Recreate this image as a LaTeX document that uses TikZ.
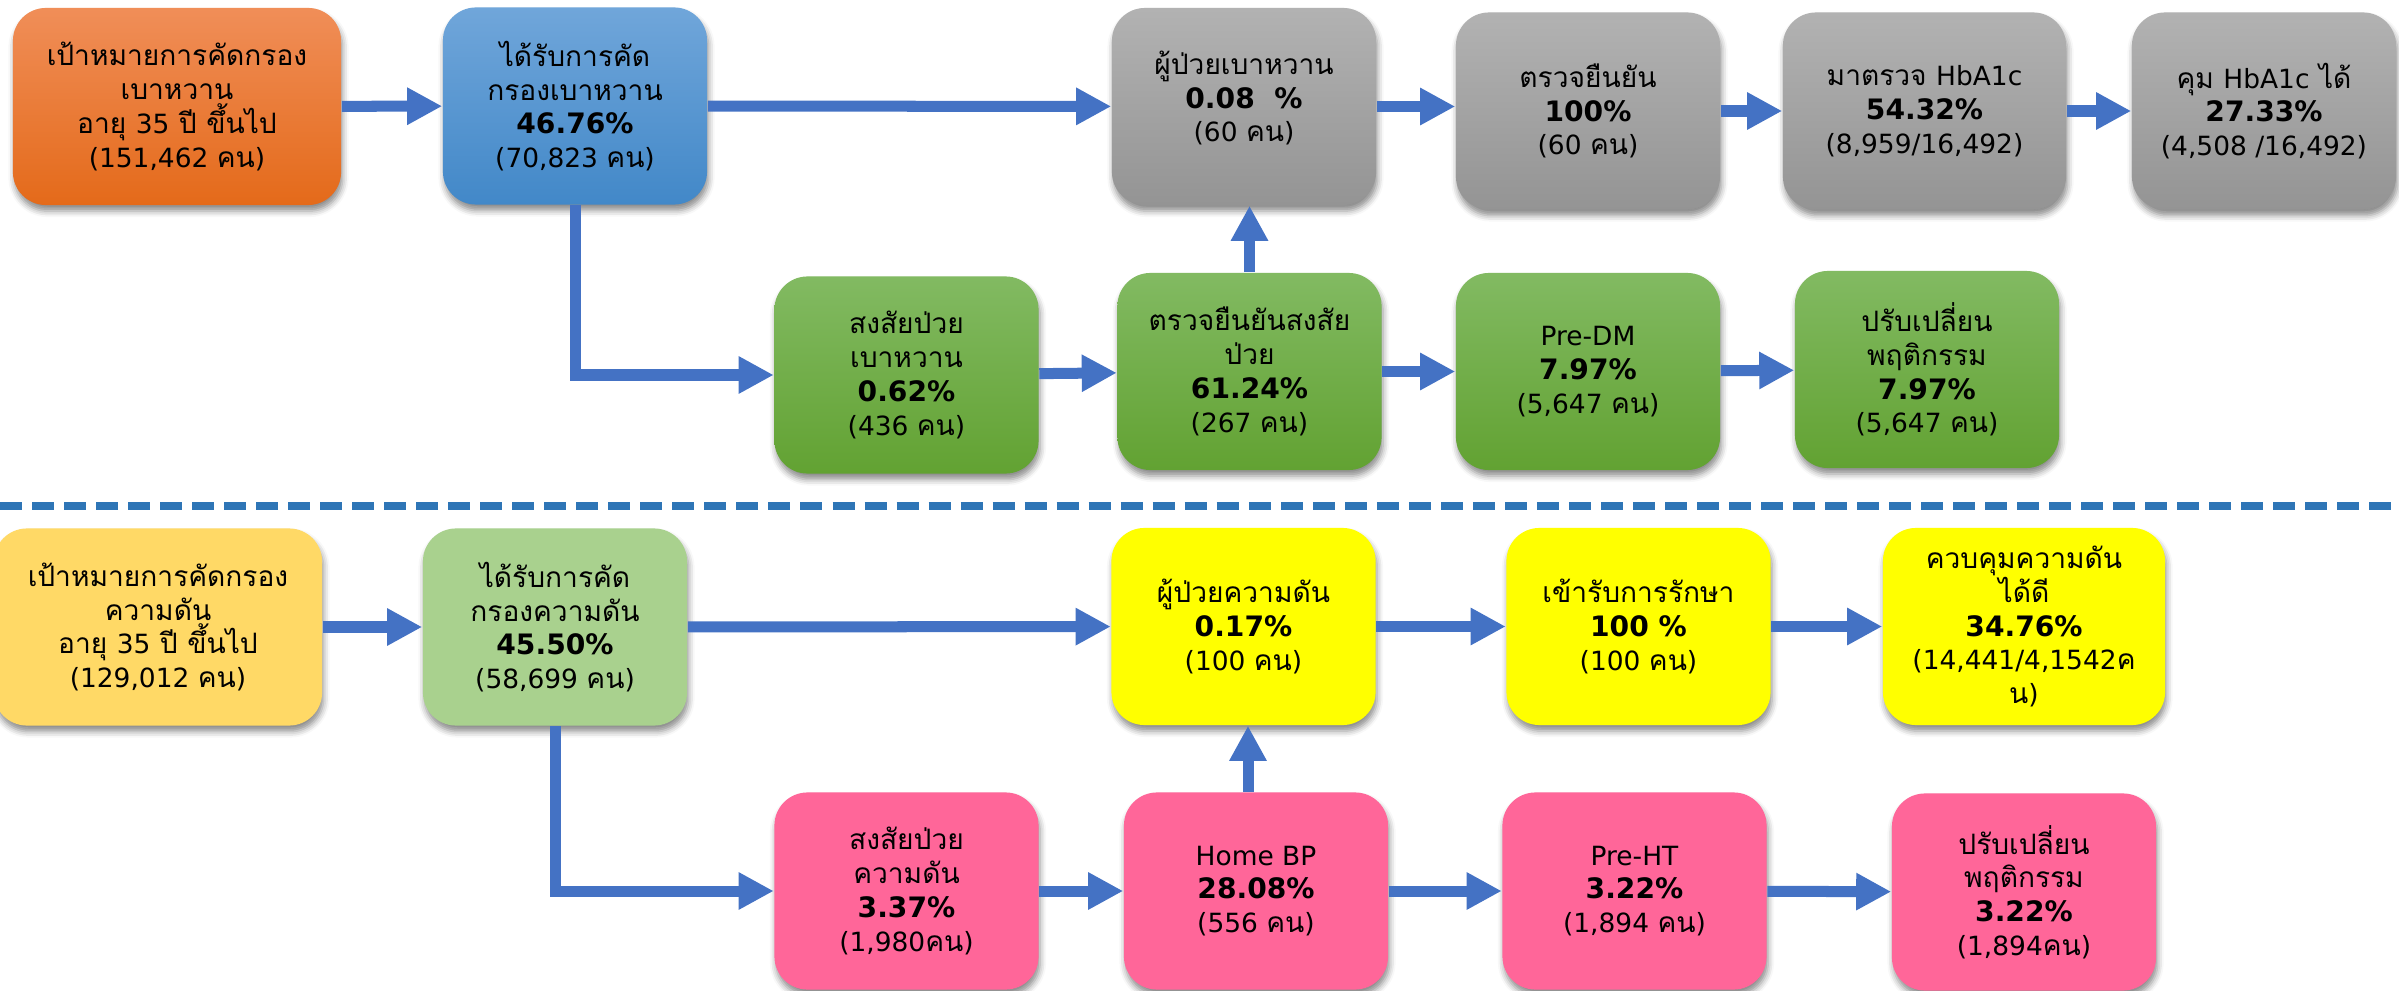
\documentclass[tikz,border=0pt]{standalone}
\usepackage{fontspec}
\setmainfont{Loma}[Script=Thai]
\newfontfamily\latf{DejaVu Sans}[Scale=0.94]
\newfontfamily\latB{DejaVu Sans}
\newcommand\LT[1]{{\latf #1}}
\newcommand\PB[1]{{\latB\bfseries #1}}
\usetikzlibrary{arrows.meta,shadows.blur}
\definecolor{arrowblue}{RGB}{68,114,196}
\definecolor{sepblue}{RGB}{46,117,182}
\definecolor{orT}{RGB}{240,142,88}
\definecolor{orM}{RGB}{244,125,45}
\definecolor{orB}{RGB}{228,106,26}
\definecolor{blT}{RGB}{112,166,218}
\definecolor{blM}{RGB}{88,152,214}
\definecolor{blB}{RGB}{66,136,200}
\definecolor{grT}{RGB}{178,178,178}
\definecolor{grB}{RGB}{148,148,148}
\definecolor{gnT}{RGB}{130,186,98}
\definecolor{gnB}{RGB}{98,162,50}
\definecolor{yorange}{RGB}{255,217,102}
\definecolor{lgreen}{RGB}{169,209,142}
\definecolor{yell}{RGB}{255,255,0}
\definecolor{pink}{RGB}{255,102,153}
\begin{document}
\begin{tikzpicture}[x=0.01cm,y=-0.01cm,
  box/.style={rounded corners=0.33cm, minimum height=1.97cm, minimum width=2.64cm,
    align=center, inner sep=0pt, font=\fontsize{8}{9.6}\selectfont,
    blur shadow={shadow xshift=0.015cm, shadow yshift=-0.06cm, shadow blur radius=0.06cm, shadow opacity=45}},
  txt/.style={align=center, inner sep=0pt, font=\fontsize{8}{9.6}\selectfont},
  orangebox/.style={box, top color=orT, middle color=orM, bottom color=orB},
  bluebox/.style={box, top color=blT, middle color=blM, bottom color=blB},
  graybox/.style={box, top color=grT, bottom color=grB},
  greenbox/.style={box, top color=gnT, bottom color=gnB},
  yobox/.style={box, fill=yorange},
  lgbox/.style={box, fill=lgreen},
  yellbox/.style={box, fill=yell},
  pinkbox/.style={box, fill=pink},
  arr/.style={draw=arrowblue, line width=0.11cm, -{Triangle[length=0.35cm,width=0.35cm]}},
  sepline/.style={draw=sepblue, line width=0.075cm, dash pattern=on 0.22cm off 0.10cm}
]
\useasboundingbox (0,0) rectangle (2399,991);

% ---------- diabetes (top) ----------
\node[orangebox, minimum width=3.28cm] (o1) at (177,106.5)
  {เป้าหมายการคัดกรอง\\เบาหวาน\\อายุ \LT{35} ปี ขึ้นไป\\\LT{(151,462 }คน\LT{)}};
\node[bluebox] (b1) at (575,106)
  {ได้รับการคัด\\กรองเบาหวาน\\\PB{46.76\%}\\\LT{(70,823 }คน\LT{)}};
\node[graybox] (g1) at (1244,106.5) {};
\node[txt] (g1t) at (1244,98) {ผู้ป่วยเบาหวาน\\\PB{0.08\ \ \%}\\\LT{(60 }คน\LT{)}};
\node[graybox] (g2) at (1588,111) {ตรวจยืนยัน\\\PB{100\%}\\\LT{(60 }คน\LT{)}};
\node[graybox, minimum width=2.83cm] (g3) at (1924.5,111) {มาตรวจ \LT{HbA1c}\\\PB{54.32\%}\\\LT{(8,959/16,492)}};
\node[graybox] (g4) at (2264,111) {คุม \LT{HbA1c} ได้\\\PB{27.33\%}\\\LT{(4,508 /16,492)}};

\node[greenbox] (gr1) at (906.5,375) {สงสัยป่วย\\เบาหวาน\\\PB{0.62\%}\\\LT{(436 }คน\LT{)}};
\node[greenbox] (gr2) at (1249.5,371.5) {ตรวจยืนยันสงสัย\\ป่วย\\\PB{61.24\%}\\\LT{(267 }คน\LT{)}};
\node[greenbox] (gr3) at (1588,371.5) {\LT{Pre-DM}\\\PB{7.97\%}\\\LT{(5,647 }คน\LT{)}};
\node[greenbox] (gr4) at (1927,369.5) {ปรับเปลี่ยน\\พฤติกรรม\\\PB{7.97\%}\\\LT{(5,647 }คน\LT{)}};

\draw[arr] (o1) -- (b1);
\draw[arr] (b1) -- (g1);
\draw[arr] (g1.east) -- (g1.east -| g2.west);
\draw[arr] (g2) -- (g3);
\draw[arr] (g3) -- (g4);
\draw[arr] (b1.south) |- (gr1.west);
\draw[arr] (gr1) -- (gr2);
\draw[arr] (gr2) -- (gr3);
\draw[arr] (gr3) -- (gr4);
\draw[arr] (gr2.north) -- (gr2.north |- g1.south);

% ---------- separator ----------
\coordinate (sepL) at (0,506);
\coordinate (sepR) at (2399,506);
\draw[sepline] (sepL) -- (sepR);

% ---------- hypertension (bottom) ----------
\node[yobox, minimum width=3.28cm] (yo) at (158,627)
  {เป้าหมายการคัดกรอง\\ความดัน\\อายุ \LT{35} ปี ขึ้นไป\\\LT{(129,012 }คน\LT{)}};
\node[lgbox] (lg) at (555,627)
  {ได้รับการคัด\\กรองความดัน\\\PB{45.50\%}\\\LT{(58,699 }คน\LT{)}};
\node[yellbox] (y1) at (1243.5,626.5) {ผู้ป่วยความดัน\\\PB{0.17\%}\\\LT{(100 }คน\LT{)}};
\node[yellbox] (y2) at (1638.5,626.5) {เข้ารับการรักษา\\\PB{100 \%}\\\LT{(100 }คน\LT{)}};
\node[yellbox, minimum width=2.82cm] (y3) at (2024,626.5)
  {ควบคุมความดัน\\ได้ดี\\\PB{34.76\%}\\\LT{(14,441/4,1542}ค\\น\LT{)}};

\node[pinkbox] (p1) at (906.5,891) {สงสัยป่วย\\ความดัน\\\PB{3.37\%}\\\LT{(1,980}คน\LT{)}};
\node[pinkbox] (p2) at (1256,891) {\LT{Home BP}\\\PB{28.08\%}\\\LT{(556 }คน\LT{)}};
\node[pinkbox] (p3) at (1634.5,891) {\LT{Pre-HT}\\\PB{3.22\%}\\\LT{(1,894 }คน\LT{)}};
\node[pinkbox] (p4) at (2024,892) {ปรับเปลี่ยน\\พฤติกรรม\\\PB{3.22\%}\\\LT{(1,894}คน\LT{)}};

\draw[arr] (yo) -- (lg);
\draw[arr] (lg) -- (y1);
\draw[arr] (y1) -- (y2);
\draw[arr] (y2) -- (y3);
\draw[arr] (lg.south) |- (p1.west);
\draw[arr] (p1) -- (p2);
\draw[arr] (p2) -- (p3);
\draw[arr] (p3) -- (p4);
\draw[arr] ([xshift=-0.08cm]p2.north) -- ([xshift=-0.08cm]p2.north |- y1.south);
\end{tikzpicture}
\end{document}
